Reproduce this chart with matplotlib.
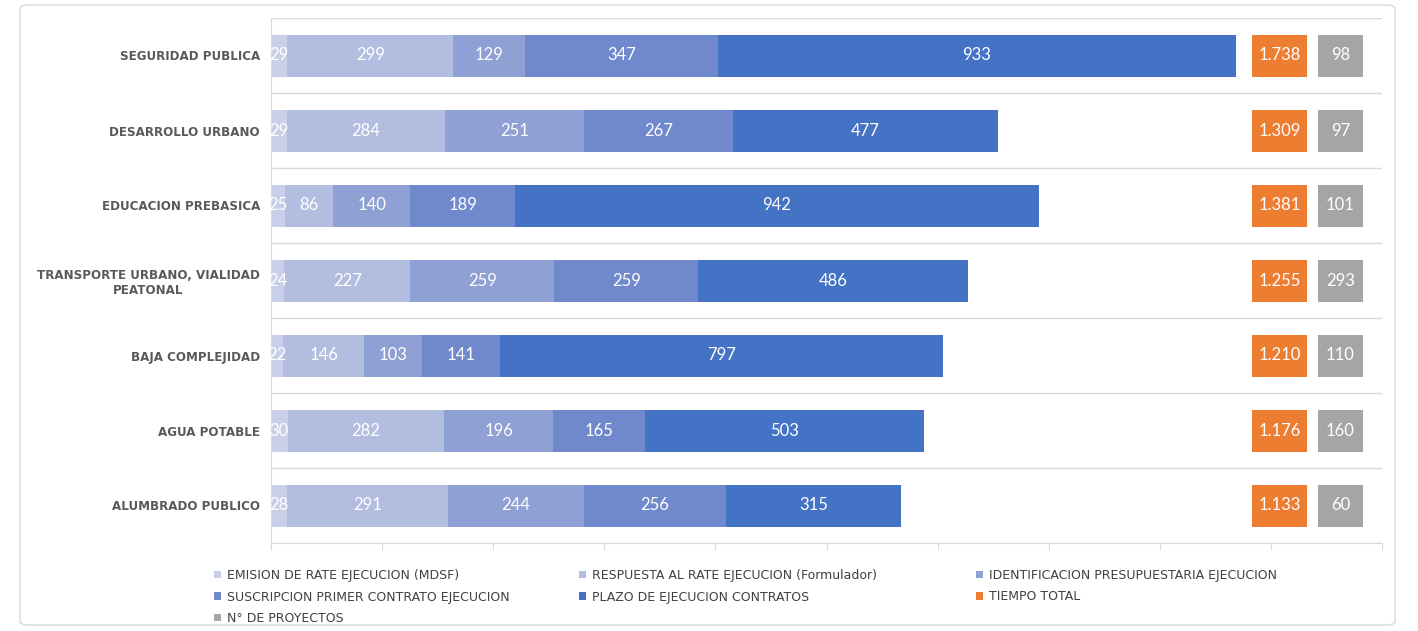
import numpy as np
import matplotlib.pyplot as plt
from matplotlib.patches import FancyBboxPatch

# datos
categorias = ['SEGURIDAD PUBLICA', 'DESARROLLO URBANO', 'EDUCACION PREBASICA',
              'TRANSPORTE URBANO, VIALIDAD\nPEATONAL', 'BAJA COMPLEJIDAD',
              'AGUA POTABLE', 'ALUMBRADO PUBLICO']
emision = [29, 29, 25, 24, 22, 30, 28]
respuesta = [299, 284, 86, 227, 146, 282, 291]
identificacion = [129, 251, 140, 259, 103, 196, 244]
suscripcion = [347, 267, 189, 259, 141, 165, 256]
plazo = [933, 477, 942, 486, 797, 503, 315]
tiempo_total = [1738, 1309, 1381, 1255, 1210, 1176, 1133]
n_proyectos = [98, 97, 101, 293, 110, 160, 60]

series = ['EMISION DE RATE EJECUCION (MDSF)', 'RESPUESTA AL RATE EJECUCION (Formulador)',
          'IDENTIFICACION PRESUPUESTARIA EJECUCION', 'SUSCRIPCION PRIMER CONTRATO EJECUCION',
          'PLAZO DE EJECUCION CONTRATOS', 'TIEMPO TOTAL', 'N° DE PROYECTOS']
colores = ['#c9cfe8', '#b3bddf', '#8fa0d4', '#7089cc', '#4472c4', '#ed7d31', '#a5a5a5']

W, H = 1418, 631
fig = plt.figure(figsize=(W / 100, H / 100), dpi=100)
gris = '#d9d9d9'
texto = '#595959'

y = np.arange(len(categorias))
bottom = 1 - 543 / H
height = 525 / H
bar_h = 0.56

ax = fig.add_axes([271 / W, bottom, (1382 - 271) / W, height])
left = np.zeros(len(categorias))
handles = []
for vals, name, col in zip([emision, respuesta, identificacion, suscripcion, plazo],
                           series[:5], colores[:5]):
    bars = ax.barh(y, vals, left=left, height=bar_h, color=col, label=name)
    ax.bar_label(bars, labels=[str(v) for v in vals], label_type='center',
                 color='white', fontsize=12, family='Lato')
    handles.append(bars)
    left += np.array(vals)

ax.set_xlim(0, 2000)
ax.set_ylim(len(categorias) - 0.5, -0.5)
ax.set_xticks(np.arange(0, 2001, 200))
ax.set_xticklabels([])
ax.tick_params(axis='x', length=5, color=gris, direction='out')
ax.set_yticks(y)
ax.set_yticklabels(categorias, fontsize=8.6, fontweight='bold', color=texto)
for lbl in ax.get_yticklabels():
    lbl.set_multialignment('center')
ax.tick_params(axis='y', length=0, pad=8)
ax.set_yticks(np.arange(-0.5, len(categorias), 1), minor=True)
ax.tick_params(axis='y', which='minor', length=0)
ax.grid(which='minor', axis='y', color=gris, lw=1)
ax.set_axisbelow(True)
for s in ['top', 'right']:
    ax.spines[s].set_visible(False)
ax.spines['left'].set_color(gris)
ax.spines['bottom'].set_color(gris)

# columnas de tiempo total y n° de proyectos
for vals, name, col, x0, x1, fmt in [
        (tiempo_total, series[5], colores[5], 1252, 1307, lambda v: f'{v:,}'.replace(',', '.')),
        (n_proyectos, series[6], colores[6], 1318, 1363, str)]:
    a = fig.add_axes([x0 / W, bottom, (x1 - x0) / W, height])
    b = a.barh(y, [1] * len(vals), height=bar_h, color=col, label=name)
    a.bar_label(b, labels=[fmt(v) for v in vals], label_type='center',
                color='white', fontsize=12, family='Lato')
    a.set_xlim(0, 1)
    a.set_ylim(len(categorias) - 0.5, -0.5)
    a.axis('off')
    handles.append(b)

# leyenda en tres columnas como en excel
col_x = [214, 579, 976]
grupos = [[0, 3, 6], [1, 4], [2, 5]]
for xx, g in zip(col_x, grupos):
    fig.legend([handles[i] for i in g], [series[i] for i in g], loc='upper left',
               bbox_to_anchor=(xx / W, 1 - 569 / H), frameon=False, fontsize=9,
               labelcolor='#404040', handlelength=0.55, handleheight=0.55,
               handletextpad=0.5, labelspacing=0.68, borderpad=0, borderaxespad=0)

fig.patches.append(FancyBboxPatch((20 / W, 6 / H), 1375 / W, 620 / H,
                                  boxstyle='round,pad=0,rounding_size=0.006',
                                  transform=fig.transFigure, fill=False,
                                  ec=gris, lw=1))

fig.savefig('out.png', dpi=100)
